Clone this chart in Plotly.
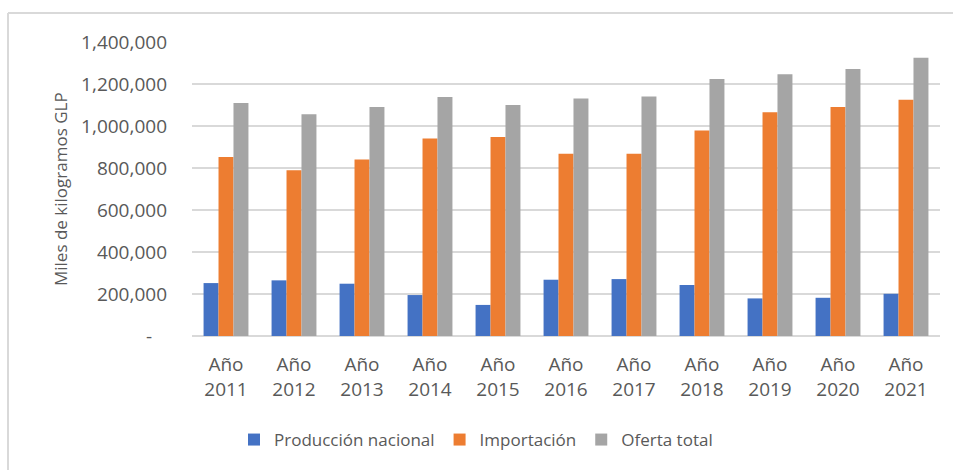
import plotly.graph_objects as go

years = ["2011", "2012", "2013", "2014", "2015", "2016", "2017", "2018", "2019", "2020", "2021"]
categories = ["Año<br>" + y for y in years]
produccion = [252000, 265000, 249000, 195000, 148000, 268000, 271000, 243000, 179000, 182000, 201000]
importacion = [852000, 789000, 840000, 941000, 948000, 868000, 868000, 979000, 1065000, 1090000, 1125000]
oferta = [1110000, 1056000, 1090000, 1138000, 1100000, 1131000, 1141000, 1224000, 1246000, 1271000, 1325000]
series_names = ["Producción nacional", "Importación", "Oferta total"]
colors = ["#4472C4", "#ED7D31", "#A5A5A5"]
tick_vals = [0, 200000, 400000, 600000, 800000, 1000000, 1200000, 1400000]
tick_text = ["-\u00a0\u00a0\u00a0", "200,000", "400,000", "600,000", "800,000", "1,000,000", "1,200,000", "1,400,000"]

W, H = 953, 470
L, R, T, B = 192, 13, 42, 134
pw = W - L - R
ph = H - T - B

fig = go.Figure()
for name, vals, c in zip(series_names, [produccion, importacion, oferta], colors):
    fig.add_trace(go.Bar(x=categories, y=vals, name=name, marker=dict(color=c, line=dict(width=0))))

font = "Open Sans, sans-serif"
txt = "#595959"

def px_x(p):
    return (p - L) / pw

def px_y(p):
    return (H - B - p) / ph

fig.update_layout(
    width=W, height=H, autosize=False,
    margin=dict(l=L, r=R, t=T, b=B),
    paper_bgcolor="white", plot_bgcolor="white",
    barmode="group", bargap=0.34, bargroupgap=0,
    font=dict(family=font, color=txt, size=18),
    showlegend=True,
    legend=dict(orientation="h", x=px_x(476), xanchor="center", y=px_y(440), yanchor="middle",
                font=dict(size=17, color=txt, family=font), bgcolor="rgba(0,0,0,0)"),
    xaxis=dict(showgrid=False, showline=False, ticks="", tickfont=dict(size=19, color=txt),
               tickangle=0, ticklabelstandoff=15),
    yaxis=dict(range=[0, 1400000], tickvals=tick_vals, ticktext=tick_text, showgrid=True,
               gridcolor="#d9d9d9", gridwidth=1.5, zeroline=True, zerolinecolor="#d9d9d9",
               zerolinewidth=1.5, showline=False, ticks="", ticklabelstandoff=24,
               tickfont=dict(size=19, color=txt)),
    shapes=[
        dict(type="line", xref="paper", yref="paper", x0=px_x(8), x1=px_x(953), y0=px_y(13), y1=px_y(13),
             line=dict(color="#d9d9d9", width=2)),
        dict(type="line", xref="paper", yref="paper", x0=px_x(8), x1=px_x(8), y0=px_y(13), y1=px_y(470),
             line=dict(color="#d9d9d9", width=2)),
    ],
    annotations=[
        dict(text="Miles de kilogramos GLP", xref="paper", yref="paper", x=px_x(60), y=px_y(189),
             xanchor="center", yanchor="middle", textangle=-90, showarrow=False,
             font=dict(size=17, color=txt, family=font)),
    ],
)

fig.write_html("out.html")
